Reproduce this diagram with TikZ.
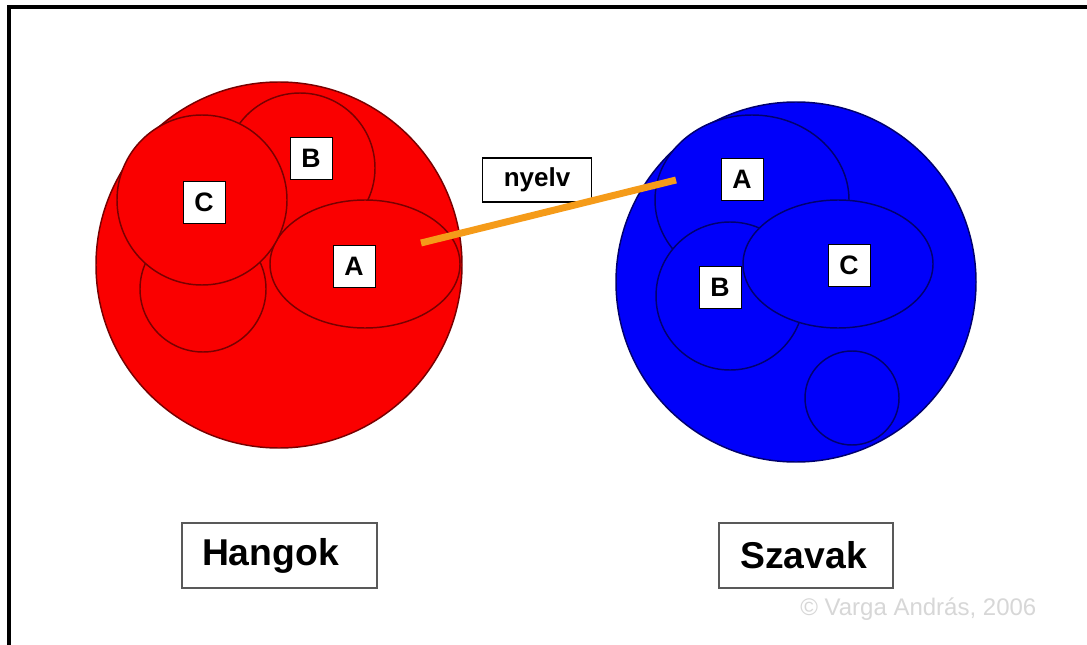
\documentclass[tikz,border=0pt]{standalone}
\usepackage{fontspec}
\setmainfont{Liberation Sans}
\usetikzlibrary{shapes.geometric}
\definecolor{myred}{RGB}{250,0,0}
\definecolor{redline}{RGB}{120,0,0}
\definecolor{myblue}{RGB}{0,0,250}
\definecolor{blueline}{RGB}{0,0,110}
\definecolor{myorange}{RGB}{245,155,25}
\definecolor{copygray}{RGB}{215,215,215}
\tikzset{
  redshape/.style={fill=myred,draw=redline,line width=1.1pt},
  blueshape/.style={fill=myblue,draw=blueline,line width=1.1pt},
  letterbox/.style={fill=white,draw=black,line width=0.6pt,minimum width=31.5pt,minimum height=31.5pt,inner sep=0pt,font=\fontsize{20}{24}\selectfont\bfseries},
  titlebox/.style={fill=white,draw=black!65,line width=1.4pt,minimum height=48.75pt,inner ysep=0pt,inner xsep=15pt,align=left,font=\fontsize{28}{32}\selectfont\bfseries},
  link/.style={draw=myorange,line width=5.2pt}
}
\begin{document}
\begin{tikzpicture}[x=0.75pt,y=-0.75pt]
\useasboundingbox (0,0) rectangle (1087,645);
\fill[white] (0,0) rectangle (1087,645);
% frame
\draw[line width=2.3pt] (9,645) -- (9,7) -- (1087,7);
% red set
\node[circle,redshape,minimum size=274.5pt,inner sep=0pt] (hang) at (279,265) {};
\node[circle,redshape,minimum size=94.5pt,inner sep=0pt] (rlow) at (203,289) {};
\node[circle,redshape,minimum size=112.5pt,inner sep=0pt] (rB) at (300,168) {};
\node[ellipse,redshape,minimum width=142.5pt,minimum height=96pt,inner sep=0pt] (rA) at (365,264) {};
\node[circle,redshape,minimum size=127.5pt,inner sep=0pt] (rC) at (202,200) {};
% blue set
\node[circle,blueshape,minimum size=270pt,inner sep=0pt] (szav) at (796,282) {};
\node[ellipse,blueshape,minimum width=145.5pt,minimum height=127.5pt,inner sep=0pt] (bA) at (752,200) {};
\node[circle,blueshape,minimum size=111pt,inner sep=0pt] (bB) at (730,296) {};
\node[ellipse,blueshape,minimum width=142.5pt,minimum height=96pt,inner sep=0pt] (bC) at (838,264) {};
\node[circle,blueshape,minimum size=70.5pt,inner sep=0pt] (bS) at (852,398) {};
% letter labels
\node[letterbox] (lrC) at (204,202) {C};
\node[letterbox] (lrB) at (311,158) {B};
\node[letterbox] (lrA) at (354,266) {A};
\node[letterbox] (lbA) at (742,179) {A};
\node[letterbox] (lbB) at (720,287) {B};
\node[letterbox] (lbC) at (849,265) {C};
% nyelv
\node[fill=white,draw=black,line width=0.8pt,minimum width=81.75pt,minimum height=33pt,inner sep=0pt,font=\fontsize{19.5}{22}\selectfont\bfseries] (nyelv) at (537,180) {nyelv};
\coordinate (p1) at (421,243);
\coordinate (p2) at (676,180);
\draw[link] (p1) -- (p2);
% titles
\node[titlebox,text width=116.25pt] (thang) at (279.5,555.5) {Hangok};
\node[titlebox,text width=98.5pt,inner xsep=15.75pt] (tszav) at (806,555.5) {Szavak};
\node[text=copygray,font=\fontsize{18}{21}\selectfont,anchor=west,inner sep=0pt] (copy) at (800,609) {© Varga András, 2006};
\end{tikzpicture}
\end{document}
